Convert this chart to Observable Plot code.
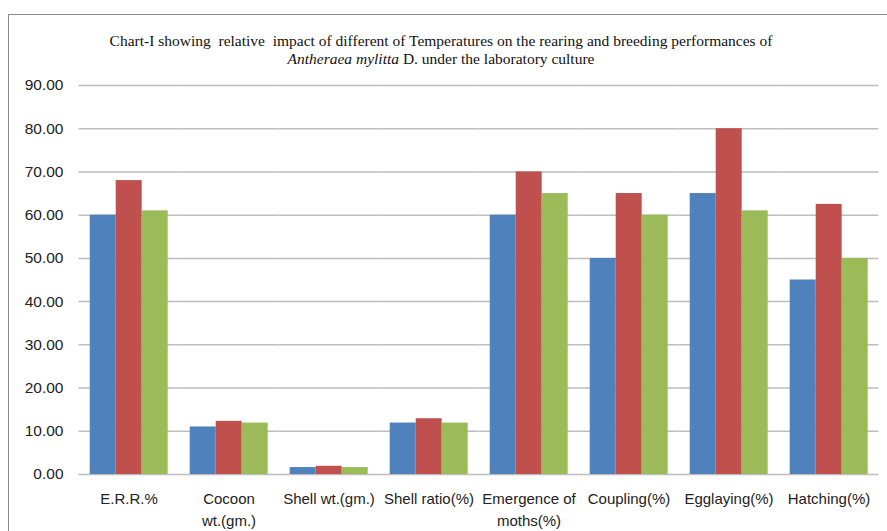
<!DOCTYPE html>
<html>
<head>
<meta charset="utf-8">
<script src="https://cdn.jsdelivr.net/npm/d3@7"></script>
<script src="https://cdn.jsdelivr.net/npm/@observablehq/plot@0.6"></script>
<style>
  html, body { margin: 0; padding: 0; background: #fff; }
  #wrap { position: relative; width: 887px; height: 531px; overflow: hidden; background: #fff; }
  #frame { position: absolute; left: 8px; top: 14px; width: 900px; height: 560px; border: 1px solid #8a8a8a; box-sizing: border-box; }
  #title { position: absolute; left: 0; top: 32px; width: 882px; text-align: center; font-family: "Liberation Serif", "Times New Roman", serif; font-size: 15.5px; line-height: 18px; color: #111; white-space: pre; }
  #chart { position: absolute; left: 0; top: 70px; }
</style>
</head>
<body>
<div id="wrap">
  <div id="frame"></div>
  <div id="title">Chart-I showing  relative  impact of different of Temperatures on the rearing and breeding performances of
<i>Antheraea mylitta</i> D. under the laboratory culture</div>
  <div id="chart"></div>
</div>
<script>
const categories = ["E.R.R.%", "Cocoon\nwt.(gm.)", "Shell wt.(gm.)", "Shell ratio(%)", "Emergence of\nmoths(%)", "Coupling(%)", "Egglaying(%)", "Hatching(%)"];
const seriesNames = ["Series 1", "Series 2", "Series 3"];
const series1 = [60, 11, 1.6, 11.9, 60, 50, 65, 45];
const series2 = [68, 12.3, 1.9, 12.9, 70, 65, 80, 62.5];
const series3 = [61, 11.9, 1.6, 11.9, 65, 60, 61, 50];
const colors = ["#4F81BD", "#C0504D", "#9BBB59"];
const yTicks = [0, 10, 20, 30, 40, 50, 60, 70, 80, 90];

const allSeries = [series1, series2, series3];
const data = [];
categories.forEach((c, i) => {
  allSeries.forEach((s, j) => data.push({category: c, series: seriesNames[j], value: s[i]}));
});

const pIn = 0.207;
const W = 887;
const marginLeft = 75.3, marginRight = 4.9;
const step = (W - marginLeft - marginRight) / categories.length;
const ext = -step * pIn / 2;

const chart = Plot.plot({
  width: W,
  height: 461,
  marginTop: 15,
  marginBottom: 57,
  marginLeft,
  marginRight,
  style: {fontFamily: "'Liberation Sans', Arial, sans-serif", color: "#222", background: "transparent"},
  fx: {domain: categories, paddingInner: pIn, paddingOuter: pIn / 2, label: null, axis: null},
  x: {domain: seriesNames, padding: 0, axis: null, label: null},
  y: {domain: [0, 90], ticks: yTicks, label: null, axis: null},
  color: {domain: seriesNames, range: colors},
  marks: [
    Plot.ruleY(yTicks, {stroke: "#bdbdbd", strokeWidth: 1.5, insetLeft: ext, insetRight: ext}),
    Plot.barY(data, {fx: "category", x: "series", y: "value", fill: "series"}),
    Plot.axisY({ticks: yTicks, tickFormat: d3.format(".2f"), tickSize: 0, tickPadding: 26, fontSize: 15.5, label: null}),
    Plot.axisFx({anchor: "bottom", tickSize: 0, tickPadding: 14, fontSize: 15, lineHeight: 1.45, label: null})
  ]
});
document.getElementById("chart").appendChild(chart);
</script>
</body>
</html>
